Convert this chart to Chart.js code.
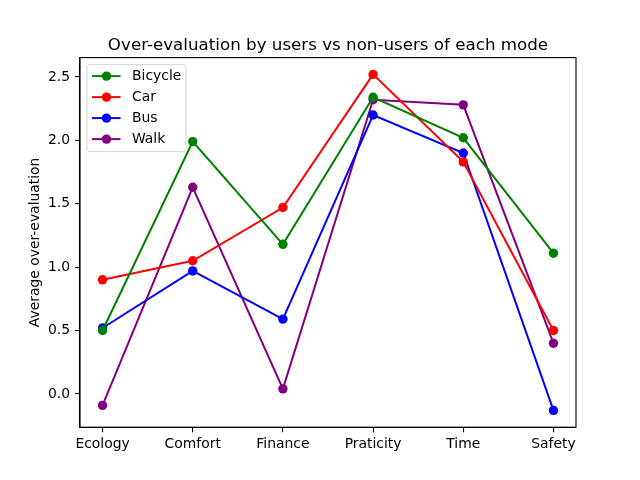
<!DOCTYPE html>
<html>
<head>
<meta charset="utf-8">
<script src="https://cdn.jsdelivr.net/npm/chart.js@4"></script>
<style>
  html, body { margin: 0; padding: 0; background: #fff; }
  #wrap { width: 640px; height: 480px; }
</style>
</head>
<body>
<div id="wrap"><canvas id="chart" width="640" height="480"></canvas></div>
<script>
const categories = ['Ecology', 'Comfort', 'Finance', 'Praticity', 'Time', 'Safety'];
const bicycle = [0.50, 1.99, 1.18, 2.34, 2.02, 1.11];
const car = [0.90, 1.05, 1.47, 2.52, 1.83, 0.50];
const bus = [0.52, 0.97, 0.59, 2.20, 1.90, -0.13];
const walk = [-0.09, 1.63, 0.04, 2.32, 2.28, 0.40];
const yTicks = [0.0, 0.5, 1.0, 1.5, 2.0, 2.5];

const seriesNames = ['Bicycle', 'Car', 'Bus', 'Walk'];
const seriesColors = ['#008000', '#ff0000', '#0000ff', '#800080'];
const seriesValues = [bicycle, car, bus, walk];

const FONT = '"DejaVu Sans", sans-serif';
const MARK = 4.7;

const datasets = seriesNames.map((name, i) => ({
  label: name,
  data: seriesValues[i].map((v, j) => ({ x: j, y: v })),
  borderColor: seriesColors[i],
  backgroundColor: seriesColors[i],
  borderWidth: 2,
  pointRadius: MARK,
  pointHoverRadius: MARK,
  pointBorderWidth: 0,
  tension: 0
}));

// frame, title and matplotlib-like legend
const decor = {
  id: 'decor',
  afterDraw(c) {
    const ctx = c.ctx;
    const a = c.chartArea;
    ctx.save();
    ctx.strokeStyle = '#000';
    ctx.lineWidth = 1.1;
    ctx.strokeRect(a.left, a.top, a.right - a.left, a.bottom - a.top);

    ctx.fillStyle = '#000';
    ctx.font = '16.7px ' + FONT;
    ctx.textAlign = 'center';
    ctx.textBaseline = 'alphabetic';
    ctx.fillText('Over-evaluation by users vs non-users of each mode', (a.left + a.right) / 2, 50);

    // legend box
    const bx = a.left + 7, by = a.top + 7, bw = 99, bh = 87;
    ctx.beginPath();
    ctx.roundRect(bx, by, bw, bh, 3);
    ctx.fillStyle = 'rgba(255,255,255,0.8)';
    ctx.fill();
    ctx.strokeStyle = '#d5d5d5';
    ctx.lineWidth = 1;
    ctx.stroke();

    ctx.font = '13.9px ' + FONT;
    ctx.textAlign = 'left';
    ctx.textBaseline = 'middle';
    c.data.datasets.forEach((ds, i) => {
      const y = by + 11.5 + i * 21;
      ctx.strokeStyle = ds.borderColor;
      ctx.lineWidth = 2;
      ctx.beginPath();
      ctx.moveTo(bx + 5, y);
      ctx.lineTo(bx + 33.5, y);
      ctx.stroke();
      ctx.fillStyle = ds.borderColor;
      ctx.beginPath();
      ctx.arc(bx + 19.5, y, MARK, 0, Math.PI * 2);
      ctx.fill();
      ctx.fillStyle = '#000';
      ctx.fillText(ds.label, bx + 45, y);
    });
    ctx.restore();
  }
};

new Chart(document.getElementById('chart'), {
  type: 'line',
  data: { datasets },
  options: {
    responsive: false,
    animation: false,
    layout: { padding: { top: 57.6, right: 64, left: 0, bottom: 0 } },
    plugins: { legend: { display: false }, title: { display: false }, tooltip: { enabled: false } },
    scales: {
      x: {
        type: 'linear',
        min: -0.25,
        max: 5.25,
        afterFit: s => { s.height = 52.8; },
        afterBuildTicks: s => { s.ticks = categories.map((_, i) => ({ value: i })); },
        grid: { display: true, drawOnChartArea: false, drawTicks: true, tickLength: 5, color: '#000', lineWidth: 1.1 },
        border: { display: true, color: '#000', width: 1.1 },
        ticks: {
          color: '#000',
          padding: 4,
          maxRotation: 0,
          autoSkip: false,
          font: { family: FONT, size: 13.9 },
          callback: v => categories[v]
        }
      },
      y: {
        min: -0.2625,
        max: 2.6525,
        afterFit: s => { s.width = 80; },
        afterBuildTicks: s => { s.ticks = yTicks.map(v => ({ value: v })); },
        grid: { display: true, drawOnChartArea: false, drawTicks: true, tickLength: 5, color: '#000', lineWidth: 1.1 },
        border: { display: true, color: '#000', width: 1.1 },
        ticks: {
          color: '#000',
          padding: 5,
          font: { family: FONT, size: 13.9 },
          callback: v => v.toFixed(1)
        },
        title: {
          display: true,
          text: 'Average over-evaluation',
          color: '#000',
          font: { family: FONT, size: 13.9 },
          padding: { top: 27, bottom: 0 }
        }
      }
    }
  },
  plugins: [decor]
});
</script>
</body>
</html>
